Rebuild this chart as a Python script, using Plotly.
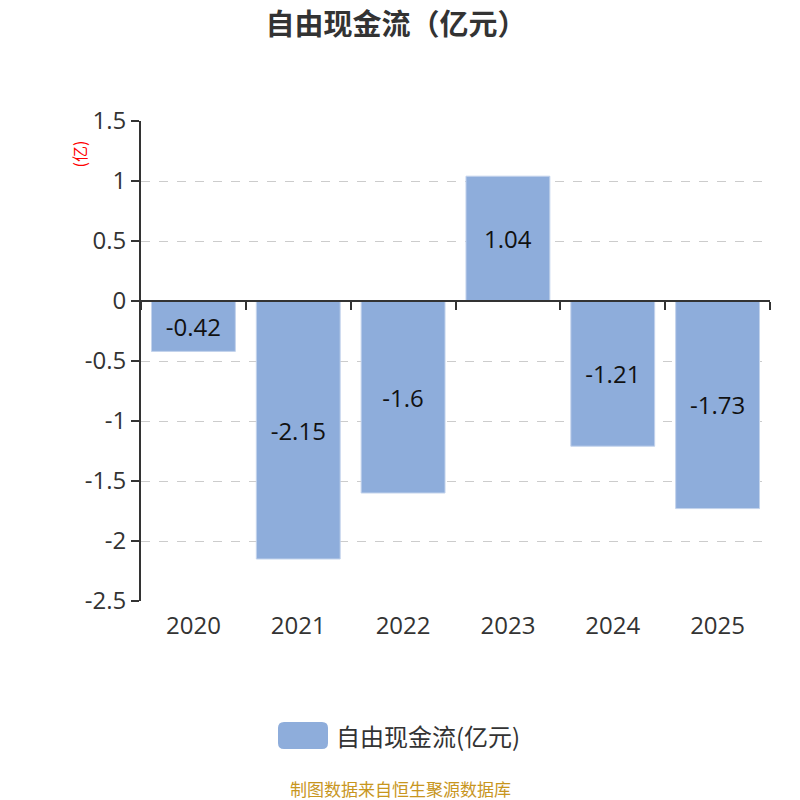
import plotly.graph_objects as go

years = ["2020", "2021", "2022", "2023", "2024", "2025"]
fcf = [-0.42, -2.15, -1.6, 1.04, -1.21, -1.73]
labels = ["-0.42", "-2.15", "-1.6", "1.04", "-1.21", "-1.73"]
y_ticks = [1.5, 1, 0.5, 0, -0.5, -1, -1.5, -2, -2.5]
y_ticktext = ["1.5", "1", "0.5", "0", "-0.5", "-1", "-1.5", "-2", "-2.5"]

bar_color = "#8eaddb"
y_min, y_max = -2.5, 1.5
W, H = 800, 800
L, R, T, B = 133, 38, 113, 207
font_main = "Open Sans, Noto Sans CJK SC, sans-serif"
font_cjk = "Noto Sans CJK SC, sans-serif"


def px_x(x):
    # figure pixel -> paper x
    return (x - L) / (W - L - R)


def px_y(y):
    return (H - B - y) / (H - T - B)


def round_rect(x0, y0, x1, y1, r):
    pts = [
        f"M {px_x(x0 + r)},{px_y(y0)}",
        f"L {px_x(x1 - r)},{px_y(y0)}",
        f"Q {px_x(x1)},{px_y(y0)} {px_x(x1)},{px_y(y0 + r)}",
        f"L {px_x(x1)},{px_y(y1 - r)}",
        f"Q {px_x(x1)},{px_y(y1)} {px_x(x1 - r)},{px_y(y1)}",
        f"L {px_x(x0 + r)},{px_y(y1)}",
        f"Q {px_x(x0)},{px_y(y1)} {px_x(x0)},{px_y(y1 - r)}",
        f"L {px_x(x0)},{px_y(y0 + r)}",
        f"Q {px_x(x0)},{px_y(y0)} {px_x(x0 + r)},{px_y(y0)} Z",
    ]
    return " ".join(pts)


fig = go.Figure()
fig.add_trace(go.Bar(
    x=years, y=fcf, name="自由现金流(亿元)",
    marker=dict(color=bar_color, line=dict(color="#c3d3ec", width=1)),
    text=labels, textposition="inside", insidetextanchor="middle",
    textfont=dict(size=24, color="#111111", family=font_main),
    textangle=0, showlegend=False,
))
# invisible trace that carries the axis drawn through zero
fig.add_trace(go.Scatter(x=years, y=[0] * len(years), xaxis="x2",
                         mode="markers", marker_opacity=0,
                         showlegend=False, hoverinfo="skip"))

fig.update_layout(
    width=W, height=H,
    plot_bgcolor="white", paper_bgcolor="white",
    font=dict(family=font_main, color="#333333"),
    margin=dict(l=L, r=R, t=T, b=B),
    title=dict(text="<b>自由现金流（亿元）</b>", x=388 / W, xanchor="center",
               xref="container", y=1 - 17 / H, yanchor="middle",
               font=dict(size=29, color="#333333", family=font_cjk)),
    bargap=0.2,
    xaxis=dict(type="category", categoryarray=years, range=[-0.5, 5.5],
               showline=False, ticks="", showgrid=False,
               ticklabelstandoff=8,
               tickfont=dict(size=24, color="#333333")),
    xaxis2=dict(type="category", categoryarray=years, range=[-0.5, 5.5],
                overlaying="x", anchor="free",
                position=(0 - y_min) / (y_max - y_min),
                showline=True, linecolor="#333333", linewidth=2,
                ticks="outside", tickson="boundaries", ticklen=8,
                tickcolor="#333333", tickwidth=2,
                showticklabels=False, showgrid=False),
    yaxis=dict(range=[y_min, y_max], tickvals=y_ticks, ticktext=y_ticktext,
               zeroline=False,
               showline=True, linecolor="#333333", linewidth=2,
               ticks="outside", ticklen=8, tickcolor="#333333", tickwidth=2,
               showgrid=True, gridcolor="#cccccc", griddash="dash",
               tickfont=dict(size=24, color="#333333")),
    shapes=[dict(type="path", xref="paper", yref="paper",
                 path=round_rect(270, 714, 320, 741, 6),
                 fillcolor=bar_color, line=dict(width=0))],
    annotations=[
        dict(text="(亿)", textangle=-90, x=px_x(56), y=px_y(131),
             xref="paper", yref="paper", showarrow=False,
             font=dict(size=16, color="red", family=font_cjk)),
        dict(text="自由现金流(亿元)", x=px_x(326), y=px_y(727),
             xref="paper", yref="paper", xanchor="left", yanchor="middle",
             showarrow=False,
             font=dict(size=24, color="#333333", family=font_cjk)),
        dict(text="制图数据来自恒生聚源数据库", x=px_x(392), y=px_y(780),
             xref="paper", yref="paper", xanchor="center", yanchor="middle",
             showarrow=False,
             font=dict(size=17, color="#c8961e", family=font_cjk)),
    ],
)

fig.write_html("out.html")
